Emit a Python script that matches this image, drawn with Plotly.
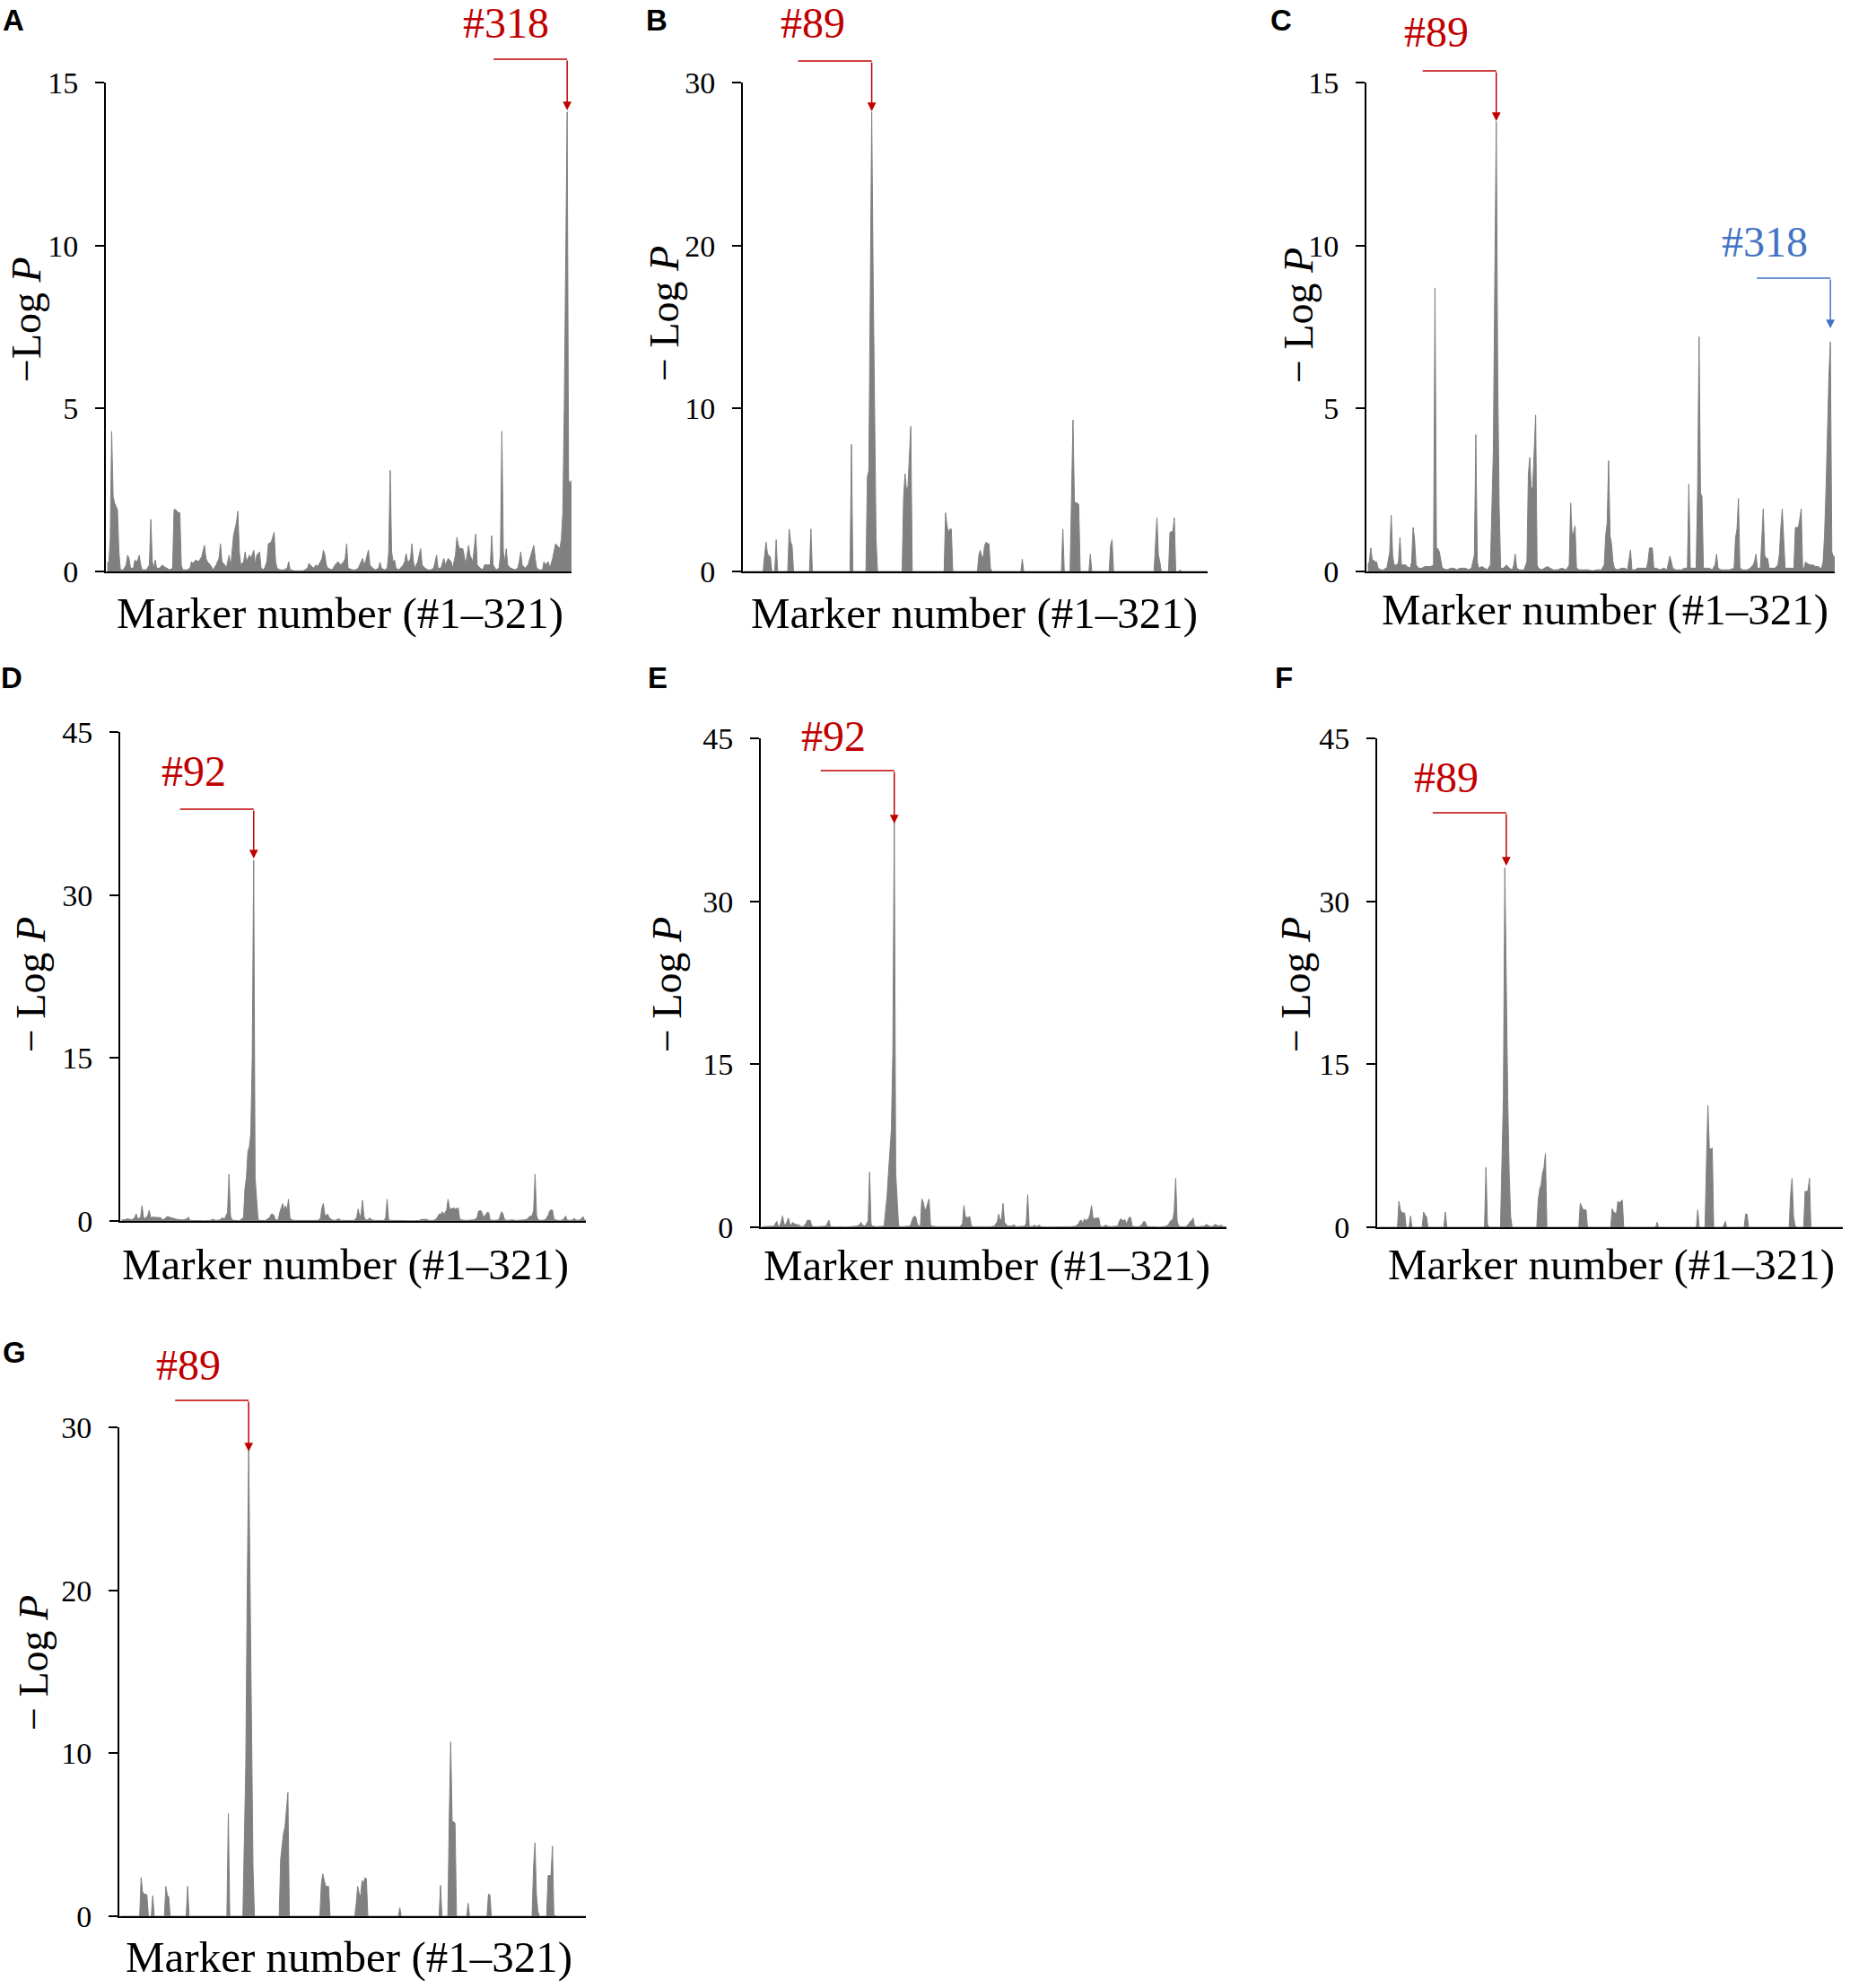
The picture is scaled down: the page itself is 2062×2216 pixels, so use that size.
import plotly.graph_objects as go

W, H = 2062, 2216
SERIF = "Liberation Serif"
GRAY = "#808080"
RED = "#C00000"
BLUE = "#4472C4"

# -Log P, as (marker number, value) pairs; markers #1-321
logp_a = [(1, 0.3), (2, 0.2), (3, 1.0), (4, 4.3), (5, 2.3), (6, 2.1), (7, 2.0), (8, 1.9), (9, 0.6), (10, 0.05),
          (12, 0.05), (14, 0.2), (15, 0.5), (16, 0.4), (17, 0.1), (19, 0.1), (20, 0.35), (21, 0.3), (22, 0.35),
          (23, 0.5), (24, 0.2), (25, 0.05), (28, 0.05), (30, 0.2), (31, 1.6), (32, 0.3), (33, 0.1), (34, 0.35),
          (35, 0.1), (37, 0.1), (39, 0.2), (40, 0.15), (42, 0.1), (44, 0.05), (46, 0.1), (47, 1.9), (48, 1.9),
          (50, 1.8), (51, 1.8), (52, 0.2), (53, 0.05), (56, 0.05), (58, 0.1), (59, 0.3), (60, 0.25), (62, 0.35),
          (64, 0.3), (66, 0.45), (68, 0.8), (69, 0.4), (70, 0.3), (72, 0.2), (74, 0.05), (76, 0.2), (78, 0.4),
          (79, 0.85), (80, 0.3), (82, 0.2), (83, 0.1), (85, 0.5), (86, 0.1), (87, 0.6), (88, 1.1), (90, 1.5),
          (91, 1.85), (92, 0.6), (93, 0.2), (95, 0.3), (96, 0.6), (97, 0.3), (99, 0.5), (100, 0.4), (102, 0.65),
          (103, 0.2), (104, 0.5), (106, 0.6), (107, 0.1), (109, 0.05), (111, 0.3), (112, 0.85), (114, 0.9),
          (116, 1.2), (117, 0.3), (118, 0.1), (120, 0.05), (123, 0.05), (125, 0.1), (126, 0.3), (127, 0.05),
          (130, 0.02), (136, 0.02), (139, 0.1), (140, 0.25), (141, 0.2), (143, 0.1), (145, 0.2), (146, 0.15),
          (148, 0.3), (149, 0.4), (150, 0.65), (151, 0.5), (152, 0.2), (153, 0.1), (156, 0.05), (158, 0.2),
          (160, 0.3), (162, 0.2), (164, 0.3), (165, 0.4), (166, 0.85), (167, 0.1), (170, 0.05), (172, 0.05),
          (174, 0.1), (177, 0.4), (178, 0.2), (179, 0.3), (181, 0.66), (182, 0.2), (184, 0.1), (186, 0.05),
          (188, 0.1), (189, 0.28), (190, 0.1), (192, 0.05), (194, 0.1), (195, 0.6), (196, 3.1), (197, 0.6),
          (198, 0.3), (199, 0.35), (200, 0.1), (202, 0.05), (205, 0.2), (206, 0.3), (207, 0.55), (208, 0.3),
          (209, 0.3), (210, 0.4), (211, 0.85), (212, 0.3), (213, 0.1), (215, 0.3), (216, 0.5), (217, 0.7),
          (218, 0.2), (220, 0.1), (222, 0.05), (224, 0.05), (226, 0.1), (228, 0.5), (229, 0.1), (231, 0.1),
          (233, 0.4), (234, 0.2), (236, 0.4), (238, 0.3), (239, 0.1), (241, 0.5), (242, 1.05), (243, 0.8),
          (244, 0.7), (246, 0.7), (247, 0.5), (248, 0.2), (250, 0.8), (251, 0.5), (253, 0.3), (255, 1.15),
          (256, 0.2), (258, 0.1), (260, 0.05), (261, 0.2), (263, 0.2), (265, 0.2), (266, 1.1), (267, 0.2),
          (269, 0.05), (271, 0.1), (272, 0.5), (273, 4.3), (274, 0.6), (275, 0.3), (276, 0.7), (277, 0.2),
          (279, 0.1), (282, 0.05), (284, 0.1), (285, 0.3), (286, 0.6), (287, 0.2), (289, 0.1), (291, 0.2),
          (293, 0.5), (295, 0.8), (296, 0.4), (297, 0.1), (299, 0.05), (301, 0.05), (302, 0.3), (303, 0.2),
          (305, 0.3), (306, 0.1), (308, 0.4), (310, 0.85), (311, 0.8), (313, 0.7), (314, 1.0), (315, 1.8),
          (316, 5.0), (317, 10.0), (318, 14.1), (319, 2.8), (320, 2.7), (321, 2.8)]

logp_b = [(1, 0), (14, 0), (15, 1.0), (16, 1.8), (17, 1.1), (18, 0.95), (19, 0.9), (20, 0), (22, 0), (23, 1.95),
          (24, 0), (31, 0), (32, 2.6), (33, 1.8), (34, 1.6), (35, 0), (46, 0), (47, 2.6), (48, 0), (74, 0),
          (75, 7.8), (76, 0), (85, 0), (86, 5.8), (87, 6.2), (88, 16), (89, 28.2), (90, 18), (91, 9), (92, 2),
          (93, 0), (110, 0), (111, 4.5), (112, 6.0), (113, 5.0), (114, 5.2), (116, 8.9), (117, 0), (139, 0),
          (140, 3.6), (141, 2.8), (142, 2.4), (143, 2.6), (144, 2.6), (145, 0), (162, 0), (163, 1.0), (164, 1.3),
          (165, 0.9), (166, 0.9), (167, 1.6), (168, 1.8), (169, 1.7), (170, 1.7), (171, 0.2), (172, 0), (192, 0),
          (193, 0.76), (194, 0), (220, 0), (221, 2.6), (222, 0), (226, 0), (227, 5.0), (228, 9.3), (229, 4.3),
          (230, 4.2), (231, 4.2), (232, 4.1), (233, 0), (239, 0), (240, 1.06), (241, 0), (253, 0), (254, 1.6),
          (255, 1.95), (256, 0), (284, 0), (285, 2.0), (286, 3.3), (287, 1.0), (288, 0.6), (289, 0), (294, 0),
          (295, 2.4), (296, 2.45), (297, 2.45), (298, 3.3), (299, 0), (301, 0), (302, 0.1), (303, 0), (321, 0)]

logp_c = [(1, 0.2), (2, 0.3), (3, 0.72), (4, 0.35), (5, 0.34), (6, 0.3), (7, 0.3), (8, 0.1), (10, 0.05),
          (12, 0.05), (13, 0.1), (14, 0.1), (16, 0.6), (17, 1.73), (18, 0.5), (19, 0.2), (20, 0.2), (21, 0.2),
          (22, 0.3), (23, 1.04), (24, 0.2), (25, 0.2), (27, 0.2), (28, 0.15), (30, 0.1), (31, 0.3), (32, 1.35),
          (33, 1.0), (34, 0.2), (36, 0.1), (38, 0.1), (40, 0.15), (42, 0.15), (44, 0.15), (46, 0.2), (47, 8.7),
          (48, 0.72), (49, 0.7), (50, 0.6), (51, 0.3), (52, 0.1), (55, 0.05), (58, 0.1), (60, 0.1), (62, 0.05),
          (64, 0.1), (66, 0.1), (68, 0.1), (70, 0.05), (72, 0.1), (74, 0.5), (75, 4.2), (76, 0.3), (77, 0.1),
          (79, 0.15), (81, 0.1), (83, 0.05), (85, 0.2), (86, 2.5), (87, 3.75), (88, 9.0), (89, 13.8), (90, 6.0),
          (91, 2.0), (92, 0.1), (94, 0.1), (96, 0.2), (98, 0.1), (100, 0.05), (101, 0.2), (102, 0.53), (103, 0.1),
          (105, 0.05), (108, 0.05), (110, 0.3), (111, 3.0), (112, 3.5), (113, 2.5), (114, 2.6), (115, 3.6),
          (116, 4.8), (117, 0.2), (118, 0.1), (120, 0.05), (122, 0.1), (124, 0.15), (126, 0.1), (128, 0.05),
          (131, 0.05), (134, 0.1), (137, 0.05), (139, 0.2), (140, 2.1), (141, 1.1), (142, 1.2), (143, 1.4),
          (144, 0.1), (146, 0.05), (149, 0.05), (152, 0.05), (155, 0.02), (158, 0.05), (161, 0.05), (163, 0.2),
          (164, 1.1), (165, 1.5), (166, 3.4), (167, 1.1), (168, 0.85), (169, 0.3), (170, 0.1), (172, 0.05),
          (175, 0.1), (177, 0.1), (179, 0.05), (181, 0.66), (182, 0.05), (184, 0.05), (186, 0.1), (188, 0.1),
          (190, 0.1), (192, 0.1), (193, 0.3), (194, 0.72), (196, 0.72), (197, 0.1), (199, 0.1), (201, 0.05),
          (204, 0.1), (206, 0.05), (208, 0.47), (209, 0.3), (210, 0.1), (212, 0.05), (214, 0.05), (216, 0.05),
          (218, 0.1), (220, 0.1), (221, 2.68), (222, 0.1), (224, 0.1), (226, 0.1), (227, 2.5), (228, 7.2),
          (229, 2.4), (230, 2.3), (231, 0.1), (233, 0.1), (235, 0.1), (237, 0.05), (239, 0.2), (240, 0.53),
          (241, 0.1), (243, 0.05), (246, 0.05), (249, 0.05), (252, 0.1), (253, 1.04), (254, 1.3), (255, 2.24),
          (256, 0.1), (258, 0.05), (261, 0.05), (263, 0.1), (265, 0.2), (266, 0.3), (267, 0.53), (268, 0.1),
          (270, 0.1), (272, 1.92), (273, 0.5), (274, 0.4), (275, 0.4), (276, 0.1), (278, 0.1), (280, 0.1),
          (282, 0.2), (283, 0.5), (284, 1.3), (285, 1.92), (286, 1.0), (287, 0.1), (289, 0.1), (291, 0.1),
          (293, 0.1), (294, 1.35), (296, 1.35), (297, 1.6), (298, 1.92), (299, 0.1), (300, 0.1), (301, 0.3),
          (302, 0.25), (304, 0.2), (306, 0.2), (308, 0.15), (310, 0.15), (311, 0.1), (312, 0.1), (313, 0.3),
          (314, 1.1), (315, 2.5), (316, 4.5), (317, 6.0), (318, 7.04), (319, 0.6), (320, 0.47), (321, 0.45)]

logp_d = [(1, 0.1), (3, 0.1), (5, 0.2), (8, 0.1), (10, 0.3), (11, 0.65), (12, 0.2), (14, 0.3), (15, 1.4),
          (16, 0.4), (17, 0.2), (19, 0.5), (20, 1.0), (21, 0.3), (22, 0.35), (24, 0.35), (26, 0.35), (28, 0.3),
          (29, 0.1), (31, 0.2), (32, 0.4), (33, 0.4), (35, 0.3), (37, 0.2), (39, 0.15), (42, 0.1), (44, 0.1),
          (46, 0.2), (47, 0.35), (48, 0.05), (52, 0.02), (58, 0.02), (62, 0.05), (64, 0.15), (66, 0.05),
          (69, 0.1), (70, 0.27), (72, 0.2), (74, 0.8), (75, 4.3), (76, 0.5), (77, 0.1), (79, 0.05), (82, 0.02),
          (85, 0.3), (86, 3.0), (87, 4.0), (88, 6.4), (89, 6.8), (90, 8.0), (91, 15), (92, 33.2), (93, 4.0),
          (94, 2.0), (95, 0.1), (97, 0.05), (100, 0.05), (103, 0.3), (104, 0.6), (105, 0.65), (106, 0.5),
          (107, 0.1), (109, 0.1), (110, 0.8), (111, 1.3), (112, 1.6), (113, 1.0), (114, 1.4), (115, 1.0),
          (116, 2.0), (117, 0.3), (118, 0.1), (121, 0.05), (124, 0.05), (127, 0.1), (130, 0.05), (133, 0.1),
          (136, 0.05), (138, 0.2), (139, 1.2), (140, 1.6), (141, 0.6), (142, 0.5), (143, 0.65), (144, 0.3),
          (145, 0.2), (146, 0.1), (148, 0.05), (151, 0.2), (152, 0.05), (155, 0.05), (158, 0.05), (161, 0.05),
          (163, 0.3), (164, 1.1), (165, 0.5), (166, 0.5), (167, 1.9), (168, 0.45), (169, 0.1), (171, 0.1),
          (172, 0.3), (173, 0.1), (176, 0.05), (179, 0.05), (182, 0.05), (183, 0.3), (184, 2.0), (185, 0.1),
          (187, 0.05), (190, 0.05), (193, 0.02), (196, 0.05), (199, 0.02), (203, 0.02), (206, 0.05), (208, 0.15),
          (211, 0.15), (213, 0.05), (216, 0.05), (218, 0.2), (219, 0.4), (220, 0.65), (221, 0.6), (222, 0.85),
          (223, 0.6), (225, 1.0), (226, 2.0), (227, 1.2), (228, 1.1), (230, 1.2), (231, 1.1), (233, 1.2),
          (234, 0.2), (235, 0.1), (238, 0.05), (241, 0.05), (244, 0.1), (246, 0.3), (247, 0.9), (248, 0.96),
          (249, 0.9), (250, 0.5), (251, 0.4), (252, 0.6), (253, 0.8), (254, 0.77), (255, 0.1), (257, 0.05),
          (259, 0.05), (261, 0.1), (262, 0.5), (263, 0.85), (264, 0.6), (265, 0.1), (267, 0.05), (270, 0.1),
          (273, 0.05), (276, 0.05), (279, 0.1), (281, 0.2), (282, 0.4), (283, 0.46), (284, 0.5), (285, 1.0),
          (286, 4.3), (287, 0.5), (288, 0.1), (290, 0.05), (293, 0.1), (295, 0.5), (296, 0.9), (297, 1.04),
          (298, 1.0), (299, 0.2), (300, 0.1), (302, 0.05), (304, 0.05), (306, 0.2), (307, 0.46), (308, 0.1),
          (310, 0.05), (312, 0.1), (313, 0.25), (314, 0.1), (316, 0.05), (318, 0.2), (319, 0.4), (320, 0.1),
          (321, 0.05)]

logp_e = [(1, 0.05), (4, 0.05), (7, 0.05), (9, 0.1), (10, 0.3), (11, 0.54), (12, 0.1), (13, 0.1), (14, 0.5),
          (15, 1.04), (16, 0.3), (17, 0.2), (18, 0.5), (19, 0.85), (20, 0.3), (21, 0.2), (22, 0.46), (23, 0.3),
          (24, 0.3), (25, 0.2), (26, 0.27), (27, 0.1), (29, 0.05), (31, 0.3), (32, 0.65), (33, 0.65), (34, 0.65),
          (35, 0.2), (36, 0.05), (39, 0.05), (42, 0.05), (45, 0.1), (46, 0.4), (47, 0.65), (48, 0.05), (51, 0.02),
          (55, 0.05), (58, 0.02), (62, 0.05), (64, 0.05), (66, 0.1), (68, 0.2), (69, 0.46), (70, 0.2), (72, 0.1),
          (74, 0.6), (75, 5.1), (76, 0.3), (77, 0.1), (80, 0.05), (83, 0.05), (85, 0.1), (86, 1.5), (87, 2.8),
          (88, 5.0), (89, 7.2), (90, 9.0), (91, 16), (92, 37.4), (93, 5.0), (94, 2.5), (95, 0.1), (97, 0.05),
          (100, 0.05), (103, 0.1), (104, 0.5), (105, 0.9), (106, 1.04), (107, 0.9), (108, 0.2), (110, 0.1),
          (111, 2.6), (112, 2.3), (113, 1.6), (114, 1.7), (115, 2.2), (116, 2.6), (117, 0.2), (118, 0.1),
          (121, 0.05), (124, 0.05), (127, 0.05), (130, 0.02), (134, 0.05), (137, 0.05), (139, 0.3), (140, 2.0),
          (141, 1.0), (142, 0.9), (143, 0.9), (144, 1.0), (145, 0.2), (146, 0.05), (149, 0.05), (152, 0.02),
          (155, 0.05), (158, 0.05), (161, 0.1), (163, 0.5), (164, 1.2), (165, 0.6), (166, 0.8), (167, 2.2),
          (168, 0.45), (169, 0.3), (170, 0.1), (172, 0.1), (175, 0.2), (176, 0.05), (179, 0.05), (182, 0.1),
          (183, 0.4), (184, 3.0), (185, 0.1), (187, 0.05), (189, 0.2), (190, 0.05), (192, 0.2), (193, 0.05),
          (196, 0.02), (200, 0.02), (204, 0.05), (207, 0.02), (211, 0.02), (214, 0.05), (217, 0.1), (219, 0.3),
          (220, 0.6), (221, 0.65), (222, 0.3), (223, 0.77), (224, 0.6), (226, 0.8), (227, 1.2), (228, 2.0),
          (229, 0.85), (230, 0.8), (232, 0.85), (233, 0.85), (234, 0.1), (236, 0.05), (238, 0.2), (239, 0.1),
          (241, 0.05), (244, 0.05), (246, 0.1), (247, 0.5), (248, 0.77), (249, 0.7), (250, 0.6), (251, 0.7),
          (252, 0.3), (253, 0.6), (254, 0.92), (255, 0.9), (256, 0.1), (258, 0.05), (261, 0.05), (263, 0.3),
          (264, 0.54), (265, 0.5), (266, 0.1), (268, 0.05), (271, 0.02), (275, 0.02), (278, 0.05), (281, 0.2),
          (282, 0.5), (283, 0.65), (284, 0.7), (285, 1.5), (286, 4.5), (287, 0.6), (288, 0.1), (290, 0.05),
          (293, 0.05), (295, 0.3), (296, 0.54), (297, 0.6), (298, 0.85), (299, 0.1), (301, 0.05), (304, 0.05),
          (306, 0.1), (307, 0.27), (308, 0.2), (310, 0.05), (312, 0.1), (313, 0.27), (314, 0.2), (316, 0.1),
          (317, 0.2), (318, 0.15), (319, 0.05), (321, 0.05)]

logp_f = [(1, 0), (14, 0), (15, 2.4), (16, 1.6), (17, 1.35), (18, 1.3), (19, 1.3), (20, 0), (22, 0), (23, 1.04),
          (24, 0), (31, 0), (32, 1.4), (33, 1.1), (34, 1.0), (35, 0), (46, 0), (47, 1.4), (48, 0), (74, 0),
          (75, 5.5), (76, 0.3), (77, 0), (85, 0), (86, 5.5), (87, 12), (88, 33.1), (89, 20), (90, 12), (91, 5),
          (92, 1), (93, 0), (110, 0), (111, 2.5), (112, 3.5), (113, 3.9), (114, 5.0), (115, 5.5), (116, 6.8),
          (117, 0), (139, 0), (140, 2.2), (141, 1.9), (142, 1.6), (143, 1.6), (144, 1.6), (145, 0), (161, 0),
          (162, 1.7), (163, 1.4), (164, 1.3), (165, 1.3), (166, 2.4), (167, 2.2), (168, 2.4), (169, 2.5),
          (170, 0), (192, 0), (193, 0.46), (194, 0), (220, 0), (221, 1.6), (222, 0), (226, 0), (227, 6.0),
          (228, 11.2), (229, 7.2), (230, 7.2), (231, 7.3), (232, 0), (238, 0), (239, 0.2), (240, 0.54), (241, 0),
          (253, 0), (254, 1.23), (255, 1.2), (256, 0), (284, 0), (285, 3.0), (286, 4.5), (287, 1.0), (288, 0.2),
          (289, 0), (294, 0), (295, 3.3), (296, 3.3), (297, 3.4), (298, 4.5), (299, 0), (321, 0)]

logp_g = [(1, 0), (14, 0), (15, 2.36), (16, 1.5), (17, 1.36), (18, 1.36), (19, 1.3), (20, 0), (22, 0), (23, 1.26),
          (24, 0), (31, 0), (32, 1.83), (33, 1.3), (34, 1.18), (35, 0), (46, 0), (47, 1.83), (48, 0), (74, 0),
          (75, 6.3), (76, 0), (85, 0), (86, 5.0), (87, 9.2), (88, 20), (89, 28.6), (90, 20), (91, 10), (92, 3),
          (93, 0), (110, 0), (111, 3.5), (112, 4.5), (113, 5.1), (114, 5.5), (115, 6.5), (116, 7.6), (117, 0),
          (138, 0), (139, 2.0), (140, 2.6), (141, 2.2), (142, 1.83), (143, 1.83), (144, 1.83), (145, 0),
          (162, 0), (163, 0.8), (164, 1.83), (165, 1.4), (166, 1.18), (167, 2.2), (168, 2.0), (169, 2.36),
          (170, 2.3), (171, 0), (192, 0), (193, 0.52), (194, 0), (220, 0), (221, 1.9), (222, 0), (226, 0),
          (227, 6.0), (228, 10.7), (229, 5.8), (230, 5.8), (231, 5.7), (232, 0), (239, 0), (240, 0.8), (241, 0),
          (253, 0), (254, 1.36), (255, 1.3), (256, 0), (284, 0), (285, 3.0), (286, 4.5), (287, 1.3), (288, 0.3),
          (289, 0), (294, 0), (295, 2.5), (296, 2.5), (297, 2.5), (298, 4.3), (299, 0), (300, 0.05), (301, 0),
          (321, 0)]

panel_letters = ["A", "B", "C", "D", "E", "F", "G"]
y_top = [15, 30, 15, 45, 45, 45, 30]
y_step = [5, 10, 5, 15, 15, 15, 10]
hit_marker = [318, 89, 89, 92, 92, 89, 89]
hit_label = ["#318", "#89", "#89", "#92", "#92", "#89", "#89"]
y_titles = ["−Log <i>P</i>"] + ["− Log <i>P</i>"] * 6
x_title = "Marker number (#1–321)"

# pixel layout of each panel: plot box (left, right, top, bottom)
boxes = [(118, 637, 92, 637), (828, 1346, 92, 637), (1523, 2045, 92, 637),
         (134, 653, 816, 1361), (848, 1367, 823, 1368), (1535, 2054, 823, 1368),
         (133, 653, 1591, 2136)]
letter_pos = [(15, 22), (732, 22), (1428, 22), (13, 756), (733, 756), (1431, 756), (16, 1507)]
ytitle_pos = [(29, 356), (740, 350), (1447, 352), (35, 1098), (744, 1098), (1445, 1098), (37, 1854)]
xtitle_pos = [(379, 684), (1086, 684), (1789, 679), (385, 1409), (1100, 1411), (1796, 1409), (389, 2181)]
hit_pos = [(564, 25), (906, 26), (1601, 35), (216, 860), (929, 821), (1612, 866), (210, 1521)]
arrow_y = [(66, 123), (68, 124), (79, 135), (902, 957), (859, 918), (906, 965), (1561, 1618)]


def px(x):
    return x / W


def py(y):
    return 1 - y / H


def marker_px(i, marker):
    left, right, top, bottom = boxes[i]
    return left + marker / 321 * (right - left)


def add_arrow(fig, i, marker, line_y, tip_y, color):
    cx = marker_px(i, marker)
    fig.add_shape(type="line", xref="paper", yref="paper", x0=px(cx - 82), x1=px(cx),
                  y0=py(line_y), y1=py(line_y), line=dict(color=color, width=1.5))
    fig.add_annotation(xref="paper", yref="paper", x=px(cx), y=py(tip_y), ax=0, ay=-(tip_y - line_y),
                       text="", showarrow=True, arrowhead=2, arrowsize=1.3, arrowwidth=1.5, arrowcolor=color)


fig = go.Figure()
series = [logp_a, logp_b, logp_c, logp_d, logp_e, logp_f, logp_g]

for i, pts in enumerate(series):
    n = "" if i == 0 else str(i + 1)
    left, right, top, bottom = boxes[i]
    fig.add_trace(go.Scatter(
        x=[p[0] for p in pts], y=[p[1] for p in pts],
        mode="lines", fill="tozeroy", fillcolor=GRAY,
        line=dict(color=GRAY, width=1),
        xaxis="x" + n, yaxis="y" + n, showlegend=False, hoverinfo="skip"
    ))
    fig.update_layout({
        "xaxis" + n: dict(domain=[px(left), px(right)], range=[0, 321], anchor="y" + n, automargin=False,
                          showline=True, linecolor="black", linewidth=2, ticks="",
                          showticklabels=False, showgrid=False, zeroline=False),
        "yaxis" + n: dict(domain=[py(bottom), py(top)], range=[0, y_top[i]], anchor="x" + n, automargin=False,
                          tickvals=list(range(0, y_top[i] + 1, y_step[i])), ticks="outside",
                          ticklen=10, tickwidth=2, tickcolor="black", ticklabelstandoff=12,
                          showline=True, linecolor="black", linewidth=2, showgrid=False, zeroline=False,
                          tickfont=dict(family=SERIF, size=34, color="black")),
    })

    # panel letter, axis titles, hit marker label
    fig.add_annotation(xref="paper", yref="paper", x=px(letter_pos[i][0]), y=py(letter_pos[i][1]),
                       text=panel_letters[i], showarrow=False, xanchor="center", yanchor="middle",
                       font=dict(family="Liberation Sans", size=33, color="black", weight="bold"))
    fig.add_annotation(xref="paper", yref="paper", x=px(ytitle_pos[i][0]), y=py(ytitle_pos[i][1]),
                       text=y_titles[i], textangle=-90, showarrow=False, xanchor="center", yanchor="middle",
                       font=dict(family=SERIF, size=46, color="black"))
    fig.add_annotation(xref="paper", yref="paper", x=px(xtitle_pos[i][0]), y=py(xtitle_pos[i][1]),
                       text=x_title, showarrow=False, xanchor="center", yanchor="middle",
                       font=dict(family=SERIF, size=49, color="black"))
    fig.add_annotation(xref="paper", yref="paper", x=px(hit_pos[i][0]), y=py(hit_pos[i][1]),
                       text=hit_label[i], showarrow=False, xanchor="center", yanchor="middle",
                       font=dict(family=SERIF, size=48, color=RED))
    add_arrow(fig, i, hit_marker[i], arrow_y[i][0], arrow_y[i][1], RED)

# second hit in panel C (blue)
fig.add_annotation(xref="paper", yref="paper", x=px(1967), y=py(270), text="#318", showarrow=False,
                   xanchor="center", yanchor="middle", font=dict(family=SERIF, size=48, color=BLUE))
add_arrow(fig, 2, 318, 310, 366, BLUE)

fig.update_layout(width=W, height=H, margin=dict(l=0, r=0, t=0, b=0, autoexpand=False),
                  paper_bgcolor="white", plot_bgcolor="white", showlegend=False)

# drop the browser's default body margin so the figure sits at the page origin
fig.write_html("out.html", config={"displayModeBar": False},
               post_script="document.body.style.margin = '0';")
